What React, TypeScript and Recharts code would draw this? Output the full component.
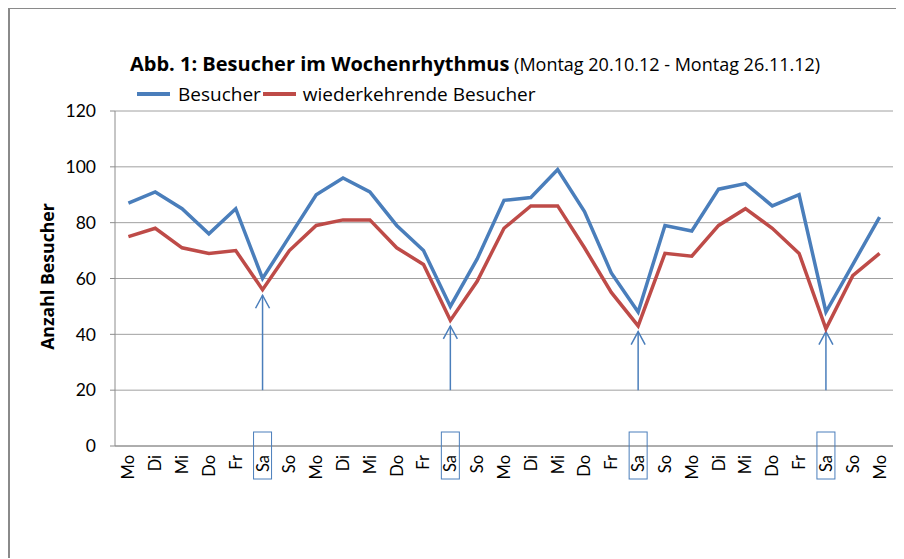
import React from 'react';
import { LineChart, Line, XAxis, YAxis, CartesianGrid, ReferenceLine } from 'recharts';

const dayLabels = [
  'Mo', 'Di', 'Mi', 'Do', 'Fr', 'Sa', 'So',
  'Mo', 'Di', 'Mi', 'Do', 'Fr', 'Sa', 'So',
  'Mo', 'Di', 'Mi', 'Do', 'Fr', 'Sa', 'So',
  'Mo', 'Di', 'Mi', 'Do', 'Fr', 'Sa', 'So',
  'Mo',
];
const besucher = [
  87, 91, 85, 76, 85, 60, 75,
  90, 96, 91, 79, 70, 50, 67,
  88, 89, 99, 84, 62, 48, 79,
  77, 92, 94, 86, 90, 48, 65,
  82,
];
const wiederkehrend = [
  75, 78, 71, 69, 70, 56, 70,
  79, 81, 81, 71, 65, 45, 59,
  78, 86, 86, 71, 55, 43, 69,
  68, 79, 85, 78, 69, 42, 61,
  69,
];
const yTicks = [0, 20, 40, 60, 80, 100, 120];
const arrowIdx = [5, 12, 19, 26];
const arrowTip = [54, 43, 41, 41];
const arrowBase = 20;
const highlighted = 'Sa';

const BLUE = '#4A7EBB';
const RED = '#BE4B48';
const FONT = 'Lato, "Open Sans", sans-serif';
const FONT2 = '"Open Sans", Lato, sans-serif';

const data = dayLabels.map((d, i) => ({ i, day: d, besucher: besucher[i], wiederkehrend: wiederkehrend[i] }));
const xTicks = dayLabels.map((_, i) => i);

const XTick = (props: any) => {
  const { x, y, payload } = props;
  const label = dayLabels[payload.value];
  return (
    <g transform={`translate(${x},${y})`}>
      {label === highlighted && (
        <rect x={-9} y={-22} width={18} height={47} fill="none" stroke={BLUE} strokeWidth={1} />
      )}
      <text
        transform="rotate(-90)"
        x={-1}
        y={0}
        dy="0.36em"
        textAnchor="end"
        fill="#000"
        fontSize={16.5}
        fontFamily={FONT}
      >
        {label}
      </text>
    </g>
  );
};

const Arrow = (props: any) => {
  const { x1, y1, x2, y2 } = props;
  return (
    <g>
      <line x1={x1} y1={y1} x2={x2} y2={y2} stroke={BLUE} strokeWidth={1.5} />
      <polyline
        points={`${x2 - 7},${y2 + 13} ${x2},${y2} ${x2 + 7},${y2 + 13}`}
        fill="none"
        stroke={BLUE}
        strokeWidth={1.5}
      />
    </g>
  );
};

const YLabel = (props: any) => {
  const { viewBox } = props;
  const cx = viewBox.x + 39;
  const cy = viewBox.y + viewBox.height / 2 - 2;
  return (
    <text
      x={cx}
      y={cy}
      transform={`rotate(-90, ${cx}, ${cy})`}
      textAnchor="middle"
      dominantBaseline="central"
      fontSize={17.7}
      fontWeight="bold"
      fontFamily={FONT2}
      fill="#000"
    >
      Anzahl Besucher
    </text>
  );
};

export default function App() {
  return (
    <div
      style={{
        position: 'relative',
        width: 894,
        height: 549,
        borderTop: '2px solid #8A8A8A',
        borderLeft: '2px solid #8A8A8A',
        background: '#fff',
        fontFamily: FONT2,
        marginTop: -1,
      }}
    >
      <div style={{ position: 'absolute', left: 120, top: 41, whiteSpace: 'nowrap', color: '#000' }}>
        <span style={{ fontSize: 20, fontWeight: 'bold' }}>Abb. 1: Besucher im Wochenrhythmus</span>
        <span style={{ fontSize: 18 }}> (Montag 20.10.12 - Montag 26.11.12)</span>
      </div>
      <div
        style={{
          position: 'absolute',
          left: 127,
          top: 72,
          display: 'flex',
          alignItems: 'center',
          whiteSpace: 'nowrap',
          fontSize: 19,
          color: '#000',
        }}
      >
        <span style={{ display: 'inline-block', width: 33, height: 4, background: BLUE, marginRight: 8 }} />
        <span>Besucher</span>
        <span style={{ display: 'inline-block', width: 33, height: 4, background: RED, margin: '0 7px 0 2px' }} />
        <span>wiederkehrende Besucher</span>
      </div>
      <div style={{ position: 'absolute', left: -2, top: -1 }}>
        <LineChart
          width={896}
          height={551}
          data={data}
          margin={{ top: 103, right: 11, bottom: 53, left: 0 }}
        >
          <CartesianGrid vertical={false} stroke="#A0A0A0" strokeWidth={1} />
          <XAxis
            type="number"
            dataKey="i"
            domain={[-0.5, 28.5]}
            ticks={xTicks}
            interval={0}
            tickLine={false}
            axisLine={{ stroke: '#8C8C8C' }}
            tick={<XTick />}
            height={60}
            allowDataOverflow
          />
          <YAxis
            domain={[0, 120]}
            ticks={yTicks}
            interval={0}
            width={107}
            tickSize={5}
            tickMargin={14}
            tickLine={{ stroke: '#8C8C8C' }}
            axisLine={{ stroke: '#8C8C8C' }}
            tick={{ fill: '#000', fontSize: 17.5, fontFamily: FONT }}
            label={<YLabel />}
          />
          {arrowIdx.map((idx, k) => (
            <ReferenceLine
              key={k}
              segment={[
                { x: idx, y: arrowBase },
                { x: idx, y: arrowTip[k] },
              ]}
              shape={<Arrow />}
              ifOverflow="visible"
            />
          ))}
          <Line
            type="linear"
            dataKey="besucher"
            stroke={BLUE}
            strokeWidth={3.5}
            dot={false}
            activeDot={false}
            isAnimationActive={false}
          />
          <Line
            type="linear"
            dataKey="wiederkehrend"
            stroke={RED}
            strokeWidth={3.5}
            dot={false}
            activeDot={false}
            isAnimationActive={false}
          />
        </LineChart>
      </div>
    </div>
  );
}
